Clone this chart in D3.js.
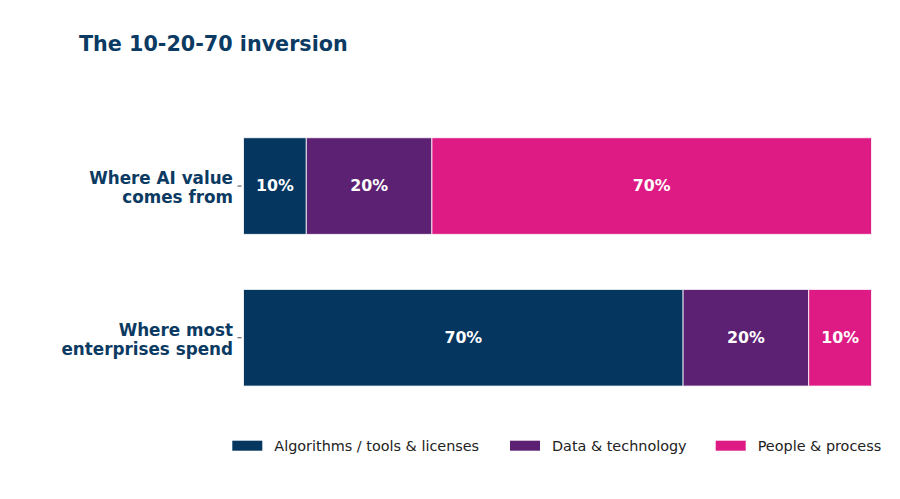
<!DOCTYPE html>
<html>
<head>
<meta charset="UTF-8">
<title>The 10-20-70 inversion</title>
<style>
html, body {
    margin: 0;
    padding: 0;
    background-color: #ffffff;
}
svg {
    display: block;
    font-family: "DejaVu Sans", sans-serif;
}
.axis-y .domain {
    display: none;
}
.axis-y line {
    stroke: #444;
}
.axis-y text {
    fill: #0b3a63;
    font-size: 16.8px;
    font-weight: bold;
}
</style>
</head>
<body>
<div class="chart"></div>
<script src="https://cdn.jsdelivr.net/npm/d3@7/dist/d3.min.js"></script>
<script>
// data
let categories = ['Where AI value comes from', 'Where most enterprises spend'];
let categoryLines = [['Where AI value', 'comes from'], ['Where most', 'enterprises spend']];
let seriesNames = ['Algorithms / tools & licenses', 'Data & technology', 'People & process'];
let algorithmsValues = [10, 70];
let dataTechValues = [20, 20];
let peopleValues = [70, 10];
let colors = ['#04365f', '#5c2173', '#de1b84'];

let width = 900, height = 499;

let svg = d3.select('.chart').append('svg')
    .attr('width', width)
    .attr('height', height);

// rows built from the arrays above
let rows = categories.map((c, i) => ({
    category: c,
    s0: algorithmsValues[i],
    s1: dataTechValues[i],
    s2: peopleValues[i]
}));

let stacked = d3.stack().keys(['s0', 's1', 's2'])(rows);

let xScale = d3.scaleLinear()
    .domain([0, 100])
    .range([243.5, 871.5]);

let yScale = d3.scaleBand()
    .domain(categories)
    .range([110.2, 413.6])
    .paddingInner(0.363)
    .paddingOuter(0.1815);

// title
svg.append('text')
    .attr('x', 79)
    .attr('y', 51)
    .attr('fill', '#0b3a63')
    .attr('font-size', '20.7px')
    .attr('font-weight', 'bold')
    .text('The 10-20-70 inversion');

// bars
let layers = svg.append('g').selectAll('g')
    .data(stacked)
    .enter().append('g')
    .attr('fill', (d, i) => colors[i]);

layers.selectAll('rect')
    .data(d => d)
    .enter().append('rect')
    .attr('x', d => xScale(d[0]))
    .attr('y', d => yScale(d.data.category))
    .attr('width', d => xScale(d[1]) - xScale(d[0]))
    .attr('height', yScale.bandwidth())
    .attr('stroke', '#ffffff')
    .attr('stroke-opacity', 0.8)
    .attr('stroke-width', 1);

layers.selectAll('text')
    .data(d => d)
    .enter().append('text')
    .attr('x', d => (xScale(d[0]) + xScale(d[1])) / 2)
    .attr('y', d => yScale(d.data.category) + yScale.bandwidth() / 2)
    .attr('dy', '0.33em')
    .attr('text-anchor', 'middle')
    .attr('fill', '#ffffff')
    .attr('font-size', '15.8px')
    .attr('font-weight', 'bold')
    .text(d => (d[1] - d[0]) + '%');

// y axis with two-line labels
let yAxis = svg.append('g')
    .attr('class', 'axis-y')
    .attr('transform', 'translate(241.5,0)')
    .call(d3.axisLeft(yScale).tickSize(4).tickPadding(4))
    .attr('font-family', '"DejaVu Sans", sans-serif')
    .attr('font-size', 16.8);

yAxis.selectAll('.tick text')
    .text(null)
    .attr('dy', null)
    .each(function(d, i) {
        let t = d3.select(this);
        categoryLines[i].forEach((line, j) => {
            t.append('tspan')
                .attr('x', -8.5)
                .attr('dy', j === 0 ? -1.7 : 19)
                .text(line);
        });
    });

// legend
let legendX = [232.3, 510, 715.7];
let legend = svg.append('g').selectAll('g')
    .data(seriesNames)
    .enter().append('g')
    .attr('transform', (d, i) => 'translate(' + legendX[i] + ',440.7)');

legend.append('rect')
    .attr('width', 30)
    .attr('height', 10)
    .attr('fill', (d, i) => colors[i]);

legend.append('text')
    .attr('x', 42)
    .attr('y', 5)
    .attr('dy', '0.35em')
    .attr('fill', '#222')
    .attr('font-size', '14.4px')
    .text(d => d);
</script>
</body>
</html>
